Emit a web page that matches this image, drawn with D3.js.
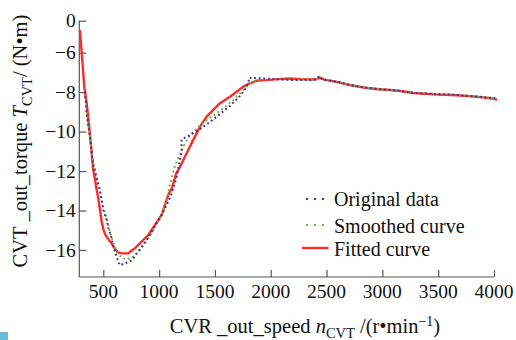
<!DOCTYPE html>
<html>
<head>
<meta charset="utf-8">
<script src="https://cdn.jsdelivr.net/npm/d3@7/dist/d3.min.js"></script>
<style>
  html, body { margin: 0; padding: 0; background: #fff; }
  svg { display: block; }
</style>
</head>
<body>
<svg id="chart" width="516" height="340"></svg>
<script>
// Speed (r/min) and torque (N·m) samples for each series
const origSpeed = [336, 345, 351, 366, 381, 390, 396, 410, 441, 470, 500, 531, 545, 575, 590, 605, 620, 634, 650, 694, 739, 769, 799, 844, 889, 934, 978, 1023, 1068, 1113, 1158, 1187, 1202,
  1201, 1277, 1366, 1456, 1545, 1635, 1725, 1778, 1805, 1805, 1904, 2053, 2202, 2352, 2412, 2435, 2456, 2501, 2591, 2680, 2770, 2860, 2963, 3158, 3277, 3456, 3666, 3875, 4009];
const origTorque = [-7.98, -8.53, -9.07, -9.75, -10.26, -10.76, -11.18, -11.69, -12.37, -12.96, -13.98, -14.49, -14.90, -15.41, -15.83, -16.09, -16.34, -16.59, -16.78, -16.67, -16.59, -16.42, -16.17, -15.83, -15.49, -15.07, -14.65, -14.22, -13.72, -13.13, -12.28, -11.44, -11.03,
  -10.40, -10.17, -9.87, -9.51, -9.11, -8.70, -8.19, -7.79, -7.38, -7.27, -7.30, -7.34, -7.39, -7.39, -7.33, -7.18, -7.33, -7.39, -7.47, -7.59, -7.69, -7.77, -7.84, -7.93, -8.03, -8.09, -8.14, -8.23, -8.31];

const smoothSpeed = [336, 351, 366, 381, 396, 410, 441, 470, 500, 531, 560, 590, 620, 665, 710, 769, 829, 874, 934, 978, 1023, 1068, 1098, 1142, 1202, 1261, 1337, 1426, 1516, 1590, 1665, 1754, 1814, 1874, 1949, 2053, 2202, 2352, 2412, 2450, 2501, 2591, 2680, 2770, 2860, 2963, 3158, 3277, 3456, 3666, 3875, 4009];
const smoothTorque = [-8.00, -9.01, -9.71, -10.27, -11.03, -11.59, -12.30, -13.01, -13.82, -14.43, -15.09, -15.65, -16.10, -16.40, -16.48, -16.34, -16.00, -15.66, -15.15, -14.68, -14.22, -13.47, -12.65, -11.74, -10.93, -10.30, -9.83, -9.41, -9.07, -8.75, -8.40, -7.89, -7.54, -7.41, -7.34, -7.34, -7.38, -7.39, -7.35, -7.30, -7.39, -7.47, -7.59, -7.69, -7.77, -7.84, -7.93, -8.03, -8.09, -8.14, -8.23, -8.31];

const fitSpeed = [291, 330, 351, 372, 390, 410, 426, 441, 457, 470, 486, 502, 524, 551, 578, 605, 634, 665, 724, 748, 784, 844, 903, 963, 1023, 1082, 1115, 1151, 1187, 1217, 1261, 1306, 1366, 1426, 1485, 1545, 1635, 1695, 1754, 1814, 1874, 1964, 2065, 2172, 2262, 2405, 2441, 2486, 2591, 2680, 2770, 2860, 2963, 3068, 3158, 3277, 3456, 3666, 3875, 4009, 4027];
const fitTorque = [-1.74, -7.74, -8.55, -9.66, -10.73, -11.94, -12.45, -12.96, -13.47, -13.97, -14.58, -14.99, -15.29, -15.50, -15.70, -15.95, -16.13, -16.17, -16.17, -16.05, -15.91, -15.58, -15.24, -14.73, -14.22, -13.21, -12.86, -12.15, -11.79, -11.44, -10.93, -10.42, -9.75, -9.24, -8.90, -8.56, -8.23, -7.98, -7.72, -7.55, -7.42, -7.39, -7.34, -7.31, -7.34, -7.36, -7.26, -7.38, -7.48, -7.61, -7.71, -7.79, -7.85, -7.89, -7.94, -8.04, -8.11, -8.16, -8.25, -8.34, -8.40];

const xTicks = [500, 1000, 1500, 2000, 2500, 3000, 3500, 4000];
const yTicks = [0, -6, -8, -10, -12, -14, -16];

const legendLabels = ["Original data", "Smoothed curve", "Fitted curve"];
const colors = { orig: "#4d2a9c", smooth: "#6db33f", fit: "#ff2b2b" };

const FONT = "'Liberation Serif', 'DejaVu Serif', serif";

const svg = d3.select("#chart").style("font-family", FONT);

// Axes: speed is linear; the torque axis is compressed between 0 and -6
const x = d3.scaleLinear().domain([285, 4000]).range([79.3, 494]);
const y = d3.scaleLinear().domain([0, -6, -17.37]).range([20.7, 52.7, 277]);

const axisColor = "#555";

// Left axis, ticks pointing inward
const yAxis = svg.append("g").attr("transform", `translate(${x.range()[0]},0)`)
  .call(d3.axisRight(y).tickValues(yTicks).tickSize(7).tickFormat(() => ""));
yAxis.select(".domain").attr("d", `M0,${y(0)}V${y.range()[2]}`);
yAxis.selectAll("path, line").attr("stroke", axisColor).attr("stroke-width", 1.2);

const label = sel => sel.attr("font-family", FONT).attr("fill", "#111");

svg.append("g").selectAll("text").data(yTicks).join("text")
  .call(label)
  .attr("x", x.range()[0] - 3.5).attr("y", d => y(d))
  .attr("dy", "0.34em").attr("text-anchor", "end")
  .attr("font-size", 19.5)
  .text(d => d === 0 ? "0" : "\u2212" + Math.abs(d));

// Bottom axis, ticks pointing up
const xAxis = svg.append("g").attr("transform", `translate(0,${y.range()[2]})`)
  .call(d3.axisTop(x).tickValues(xTicks).tickSize(7).tickFormat(() => ""));
xAxis.select(".domain").attr("d", `M${x.range()[0]},0H${x.range()[1]}`);
xAxis.selectAll("path, line").attr("stroke", axisColor).attr("stroke-width", 1.2);

svg.append("g").selectAll("text").data(xTicks).join("text")
  .call(label)
  .attr("x", d => x(d)).attr("y", 298.3)
  .attr("text-anchor", "middle")
  .attr("font-size", 19.5)
  .text(d => d);

// Series
const line = d3.line().x(d => x(d[0])).y(d => y(d[1]));
const pairs = (a, b) => a.map((v, i) => [v, b[i]]);

svg.append("path").datum(pairs(fitSpeed, fitTorque))
  .attr("d", line).attr("fill", "none")
  .attr("stroke", colors.fit).attr("stroke-width", 2.4)
  .attr("stroke-linejoin", "round");

svg.append("path").datum(pairs(smoothSpeed, smoothTorque))
  .attr("d", line).attr("fill", "none")
  .attr("stroke", colors.smooth).attr("stroke-width", 2)
  .attr("stroke-dasharray", "1.8 3");

svg.append("path").datum(pairs(origSpeed, origTorque))
  .attr("d", line).attr("fill", "none")
  .attr("stroke", colors.orig).attr("stroke-width", 2)
  .attr("stroke-dasharray", "1.8 2.8");

// Legend
const legendY = [199, 225, 248];
const legendTextY = [206, 232.7, 255.5];
const lg = svg.append("g");
[colors.orig, colors.smooth].forEach((c, i) => {
  lg.selectAll(null).data([307, 315, 323]).join("rect")
    .attr("x", d => d - 1).attr("y", legendY[i] - 1)
    .attr("width", 2).attr("height", 2).attr("fill", c);
});
lg.append("line").attr("x1", 302).attr("x2", 328.5)
  .attr("y1", legendY[2]).attr("y2", legendY[2])
  .attr("stroke", colors.fit).attr("stroke-width", 2.4);
lg.selectAll("text").data(legendLabels).join("text")
  .call(label)
  .attr("x", 334).attr("y", (d, i) => legendTextY[i])
  .attr("font-size", 20).text(d => d);

// Axis titles
const xt = svg.append("text").call(label)
  .attr("x", 305).attr("y", 333).attr("text-anchor", "middle")
  .attr("font-size", 20.5);
xt.append("tspan").text("CVR _out_speed ");
xt.append("tspan").attr("font-style", "italic").text("n");
xt.append("tspan").attr("dy", 5).attr("font-size", 14.5).text("CVT");
xt.append("tspan").attr("dy", -5).text(" /(r\u2022min");
xt.append("tspan").attr("dy", -7).attr("font-size", 14).text("\u22121");
xt.append("tspan").attr("dy", 7).text(")");

const yt = svg.append("text").call(label)
  .attr("transform", "translate(27,141) rotate(-90)")
  .attr("text-anchor", "middle").attr("font-size", 20.5);
yt.append("tspan").text("CVT _out_torque ");
yt.append("tspan").attr("font-style", "italic").text("T");
yt.append("tspan").attr("dy", 5).attr("font-size", 14.5).text("CVT");
yt.append("tspan").attr("dy", -5).text("/ (N\u2022m)");

// Small corner marker
svg.append("rect").attr("x", 0).attr("y", 332).attr("width", 8).attr("height", 8).attr("fill", "#6bbad8");
</script>
</body>
</html>
